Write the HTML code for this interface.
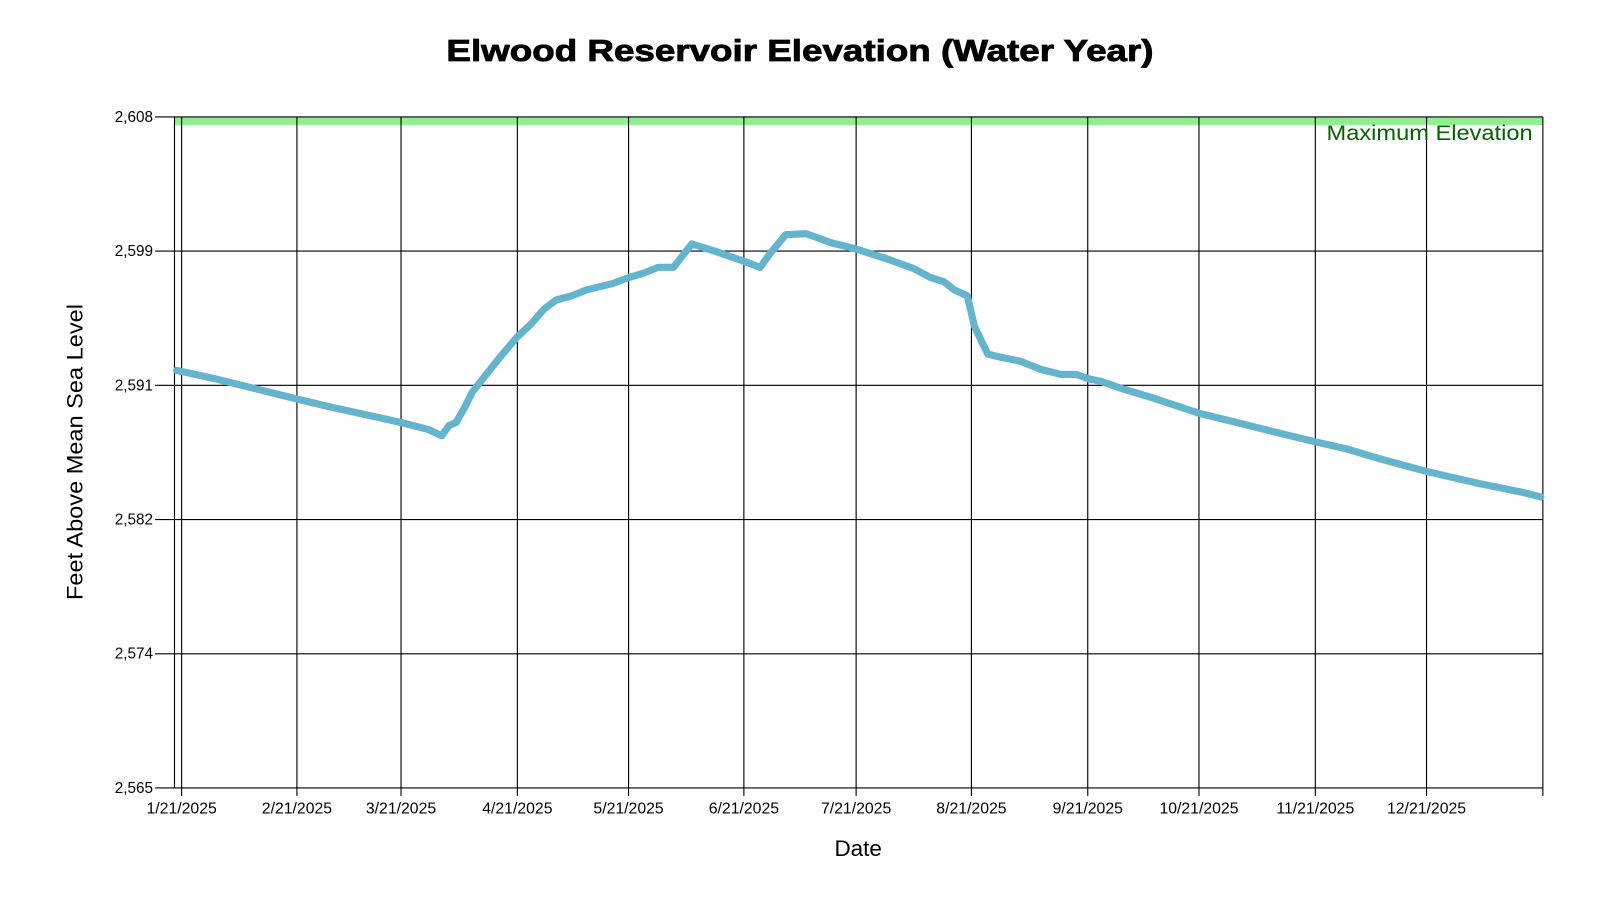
<!DOCTYPE html>
<html><head><meta charset="utf-8"><style>html,body{margin:0;padding:0;background:#fff;}svg{display:block;}</style></head>
<body>
<svg width="1600" height="900" viewBox="0 0 1568 882" xmlns="http://www.w3.org/2000/svg" font-family="'Liberation Sans', Arial, sans-serif">
<text x="784" y="60" text-anchor="middle" font-size="30" font-weight="bold" textLength="693" lengthAdjust="spacingAndGlyphs" stroke="#000" stroke-width="0.8">Elwood Reservoir Elevation (Water Year)</text>
<rect x="171" y="114.6" width="1341" height="7.8" fill="#90ee90"/>
<g stroke="#000" stroke-width="1.1" fill="none">
<line x1="152" y1="114.6" x2="1512" y2="114.6"/>
<line x1="152" y1="246.1" x2="1512" y2="246.1"/>
<line x1="152" y1="377.6" x2="1512" y2="377.6"/>
<line x1="152" y1="509.2" x2="1512" y2="509.2"/>
<line x1="152" y1="640.7" x2="1512" y2="640.7"/>
<line x1="152" y1="772.2" x2="1512" y2="772.2"/>
<line x1="171" y1="114.6" x2="171" y2="772.2"/>
<line x1="1512" y1="114.6" x2="1512" y2="780"/>
<line x1="178" y1="114.6" x2="178" y2="780"/>
<line x1="291" y1="114.6" x2="291" y2="780"/>
<line x1="393" y1="114.6" x2="393" y2="780"/>
<line x1="507" y1="114.6" x2="507" y2="780"/>
<line x1="616" y1="114.6" x2="616" y2="780"/>
<line x1="729" y1="114.6" x2="729" y2="780"/>
<line x1="839" y1="114.6" x2="839" y2="780"/>
<line x1="952" y1="114.6" x2="952" y2="780"/>
<line x1="1066" y1="114.6" x2="1066" y2="780"/>
<line x1="1175" y1="114.6" x2="1175" y2="780"/>
<line x1="1289" y1="114.6" x2="1289" y2="780"/>
<line x1="1398" y1="114.6" x2="1398" y2="780"/>
</g>
<g font-size="15" text-anchor="end">
<text x="150" y="119.5">2,608</text>
<text x="150" y="251">2,599</text>
<text x="150" y="382.5">2,591</text>
<text x="150" y="514">2,582</text>
<text x="150" y="645.5">2,574</text>
<text x="150" y="777">2,565</text>
</g>
<g font-size="15.5" text-anchor="middle">
<text x="178" y="797">1/21/2025</text>
<text x="291" y="797">2/21/2025</text>
<text x="393" y="797">3/21/2025</text>
<text x="507" y="797">4/21/2025</text>
<text x="616" y="797">5/21/2025</text>
<text x="729" y="797">6/21/2025</text>
<text x="839" y="797">7/21/2025</text>
<text x="952" y="797">8/21/2025</text>
<text x="1066" y="797">9/21/2025</text>
<text x="1175" y="797">10/21/2025</text>
<text x="1289" y="797">11/21/2025</text>
<text x="1398" y="797">12/21/2025</text>
</g>
<text x="841" y="839" text-anchor="middle" font-size="22">Date</text>
<text transform="translate(81,443) rotate(-90)" text-anchor="middle" font-size="22" textLength="290" lengthAdjust="spacingAndGlyphs">Feet Above Mean Sea Level</text>
<text x="1502" y="137" text-anchor="end" font-size="21" fill="#006400" textLength="202" lengthAdjust="spacingAndGlyphs">Maximum Elevation</text>
<polyline fill="none" stroke="#63b4cc" stroke-width="7" stroke-linejoin="round" stroke-linecap="round" points="173,363 210,371 291,391 320,398 393,414 420,421 433,427 440,417 447,414 455,400 463,384 490,350 507,330 520,318 533,303 545,294 560,290 575,284 600,278 616,272 630,268 645,262 660,262 678,239 700,246 729,256 745,262 755,248 770,230 790,229 815,238 839,244 870,254 895,263 912,272 925,276 935,284 948,290 955,320 968,347 980,350 1000,354 1020,362 1040,367 1055,367 1066,371 1080,374 1100,381 1130,390 1175,405 1220,416 1260,426 1289,433 1320,440 1350,449 1398,462 1450,474 1490,482 1510,487"/>
</svg>
</body></html>
